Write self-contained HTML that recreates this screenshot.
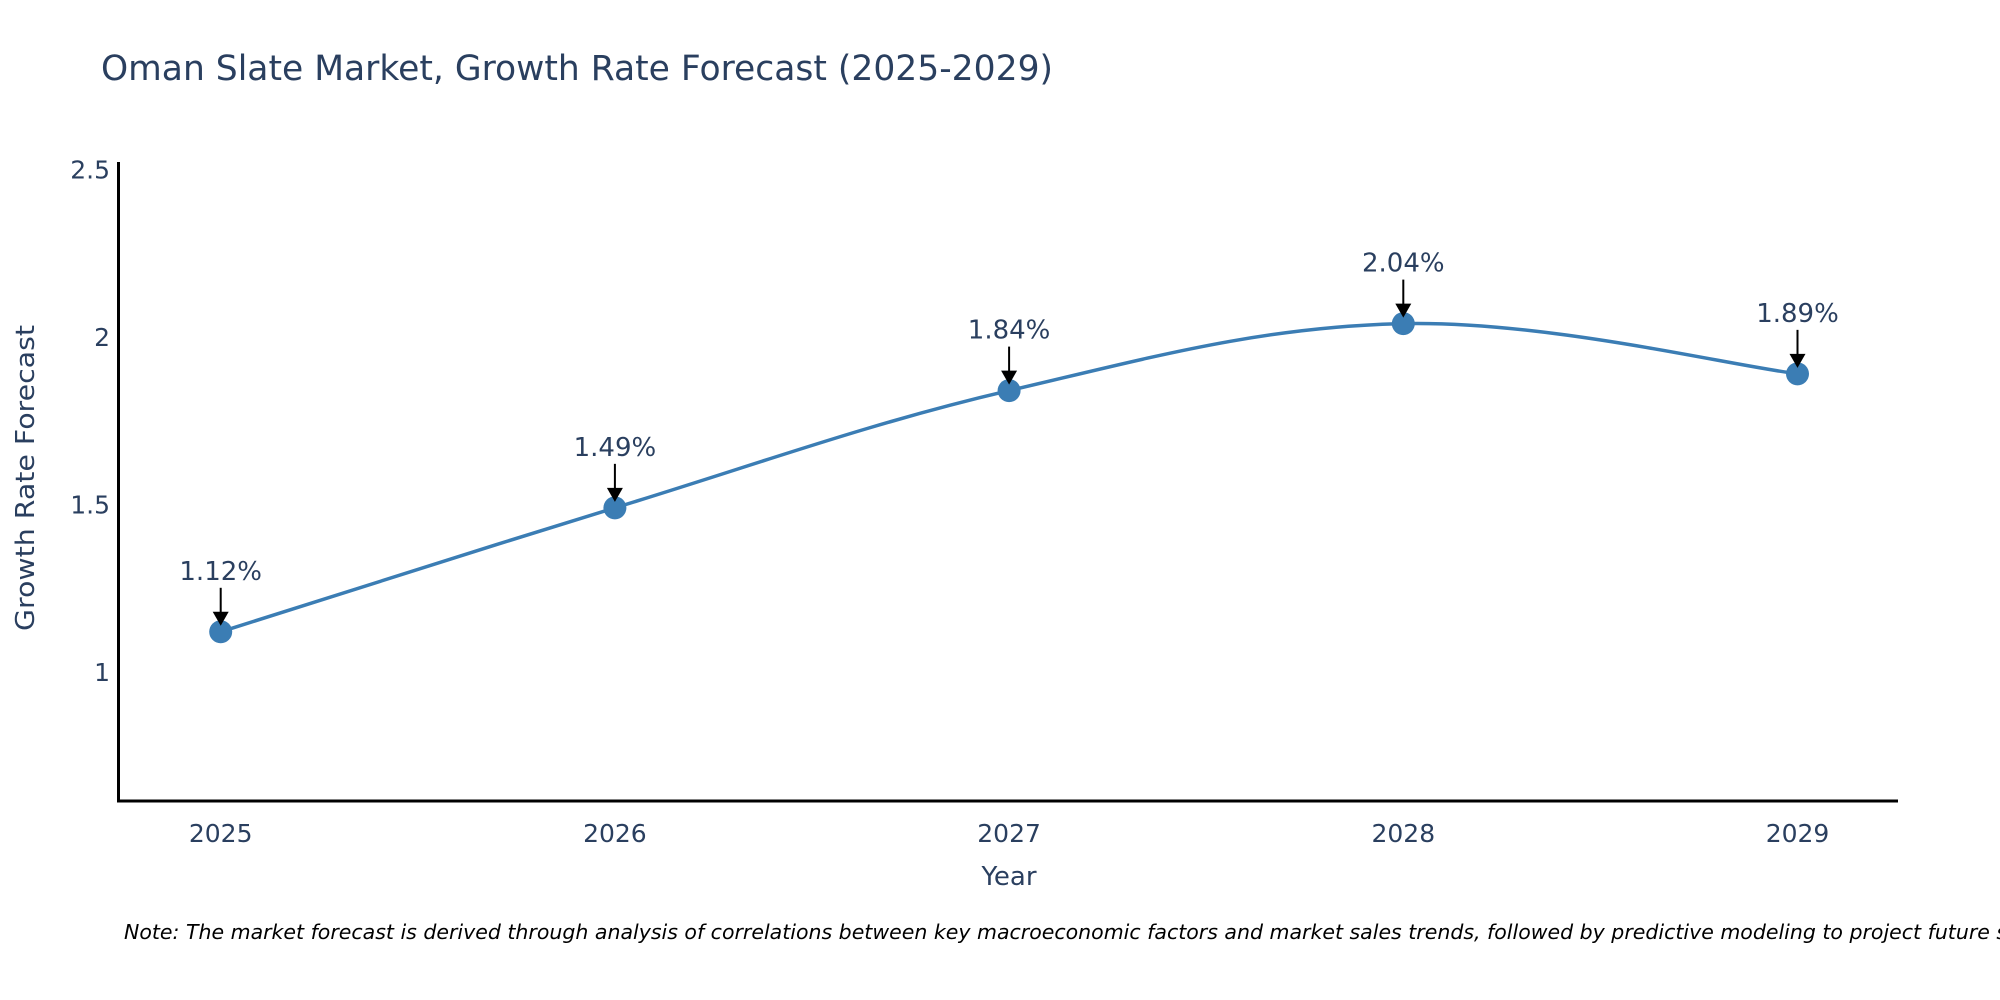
<!DOCTYPE html>
<html><head><meta charset="utf-8"><style>
html,body{margin:0;padding:0;background:#fff;}
svg{display:block;}
text{font-family:"DejaVu Sans","Liberation Sans",sans-serif;fill:#2a3f5f;}
</style></head><body>
<svg id="chart" width="2000" height="1000" viewBox="0 0 2000 1000">
<text x="101" y="80" font-size="35" textLength="952" lengthAdjust="spacingAndGlyphs" font-family="Liberation Sans, sans-serif">Oman Slate Market, Growth Rate Forecast (2025-2029)</text>
<g id="yticks"></g>
<g id="xticks"></g>
<line x1="118.5" y1="162" x2="118.5" y2="802" stroke="#000" stroke-width="3"/>
<line x1="117" y1="801" x2="1898" y2="801" stroke="#000" stroke-width="3"/>
<text transform="translate(34,478) rotate(-90)" text-anchor="middle" font-size="26" textLength="306" lengthAdjust="spacingAndGlyphs" font-family="Liberation Sans, sans-serif">Growth Rate Forecast</text>
<text x="1009" y="885" text-anchor="middle" font-size="26" font-family="Liberation Sans, sans-serif">Year</text>
<g id="plot"></g>
<text x="124" y="939" font-size="20.5" font-style="italic" style="fill:#000">Note: The market forecast is derived through analysis of correlations between key macroeconomic factors and market sales trends, followed by predictive modeling to project future sales.</text>
</svg>
<script>
const years = [2025, 2026, 2027, 2028, 2029];
const values = [1.12, 1.49, 1.84, 2.04, 1.89];
const valueLabels = ["1.12%", "1.49%", "1.84%", "2.04%", "1.89%"];
const yTickValues = [1, 1.5, 2, 2.5];
const yTickLabels = ["1", "1.5", "2", "2.5"];

const NS = "http://www.w3.org/2000/svg";
function xScale(yr){ return 220.7 + (yr - 2025) * 394.2; }
function yScale(v){ return 672 - (v - 1) * 335; }
function mk(tag, attrs, parent){ const e=document.createElementNS(NS,tag); for(const k in attrs) e.setAttribute(k, attrs[k]); parent.appendChild(e); return e; }

const yt = document.getElementById('yticks');
yTickValues.forEach((v,i)=>{
  const t = mk('text',{x:110,y:yScale(v)+9,'text-anchor':'end','font-size':25},yt);
  
  
  t.textContent = yTickLabels[i];
});
const xt = document.getElementById('xticks');
years.forEach(yr=>{
  const t = mk('text',{x:xScale(yr),y:842,'text-anchor':'middle','font-size':25},xt);
  
  
  t.textContent = String(yr);
});

const plot = document.getElementById('plot');
const pts = years.map((yr,i)=>[xScale(yr), yScale(values[i])]);
let d = `M${pts[0][0]},${pts[0][1]}`;
const s = 0.18;
for(let i=0;i<pts.length-1;i++){
  const p0 = pts[Math.max(0,i-1)], p1=pts[i], p2=pts[i+1], p3=pts[Math.min(pts.length-1,i+2)];
  const c1=[p1[0]+(p2[0]-p0[0])*s, p1[1]+(p2[1]-p0[1])*s];
  const c2=[p2[0]-(p3[0]-p1[0])*s, p2[1]-(p3[1]-p1[1])*s];
  d += ` C${c1[0]},${c1[1]} ${c2[0]},${c2[1]} ${p2[0]},${p2[1]}`;
}
const line = mk('path',{d:d,fill:'none',stroke:'#3b7db4','stroke-width':3.5},plot);



pts.forEach((p,i)=>{
  const c = mk('circle',{cx:p[0],cy:p[1],r:11.5,fill:'#3b7db4'},plot);
  
  
  const a = mk('line',{x1:p[0],y1:p[1]-44,x2:p[0],y2:p[1]-18,stroke:'#000','stroke-width':2},plot);
  
  
  const h = mk('polygon',{points:`${p[0]-8},${p[1]-20} ${p[0]+8},${p[1]-20} ${p[0]},${p[1]-6}`,fill:'#000'},plot);
  
  
  const t = mk('text',{x:p[0],y:p[1]-52,'text-anchor':'middle','font-size':26},plot);
  
  
  t.textContent = valueLabels[i];
});
</script>
</body></html>
